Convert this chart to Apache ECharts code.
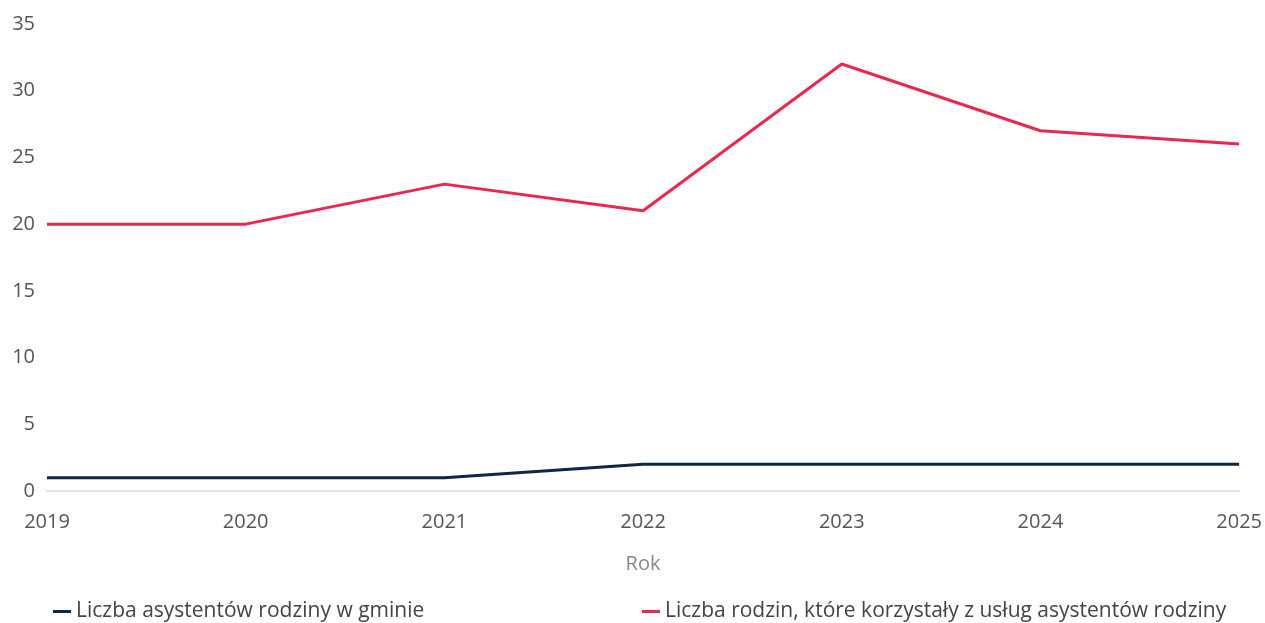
<!DOCTYPE html>
<html>
<head>
<meta charset="utf-8">
<script src="https://cdn.jsdelivr.net/npm/echarts@6/dist/echarts.min.js"></script>
<style>
html,body{margin:0;padding:0;background:#fff;}
#c{width:1265px;height:623px;}
</style>
</head>
<body>
<div id="c"></div>
<script>
const years = ['2019','2020','2021','2022','2023','2024','2025'];
const asystenci = [1, 1, 1, 2, 2, 2, 2];
const rodziny = [20, 20, 23, 21, 32, 27, 26];
const nameAsystenci = 'Liczba asystentów rodziny w gminie';
const nameRodziny = 'Liczba rodzin, które korzystały z usług asystentów rodziny';

const font = '"Open Sans", "Noto Sans", sans-serif';
const fs = 20;
const chart = echarts.init(document.getElementById('c'));
chart.setOption({
  animation: false,
  textStyle: {fontFamily: font},
  grid: {left: 47, right: 25, top: 24, bottom: 132},
  legend: [
    {data: [nameAsystenci], left: 48, top: 596, icon: 'rect', itemWidth: 18, itemHeight: 3,
     textStyle: {fontSize: 21, color: '#444', fontFamily: font}},
    {data: [nameRodziny], left: 637, top: 596, icon: 'rect', itemWidth: 18, itemHeight: 3,
     textStyle: {fontSize: 21, color: '#444', fontFamily: font}}
  ],
  xAxis: {
    type: 'category', data: years, boundaryGap: false,
    name: 'Rok', nameLocation: 'middle', nameGap: 63,
    nameTextStyle: {fontSize: fs, color: '#888', fontFamily: font},
    axisLine: {lineStyle: {color: '#e3e3e3', width: 2}},
    axisTick: {show: false},
    axisLabel: {fontSize: fs, color: '#555', margin: 21, fontFamily: font,
      alignMinLabel: 'center', alignMaxLabel: 'center'}
  },
  yAxis: {
    type: 'value', min: 0, max: 35, interval: 5,
    splitLine: {show: false},
    axisLine: {show: false}, axisTick: {show: false},
    axisLabel: {fontSize: fs, color: '#555', margin: 12, fontFamily: font}
  },
  series: [
    {name: nameAsystenci, type: 'line', data: asystenci, showSymbol: false,
     itemStyle: {color: '#0d2744'}, lineStyle: {color: '#0d2744', width: 3}},
    {name: nameRodziny, type: 'line', data: rodziny, showSymbol: false,
     itemStyle: {color: '#e8294f'}, lineStyle: {color: '#e8294f', width: 3}}
  ]
});
</script>
</body>
</html>
